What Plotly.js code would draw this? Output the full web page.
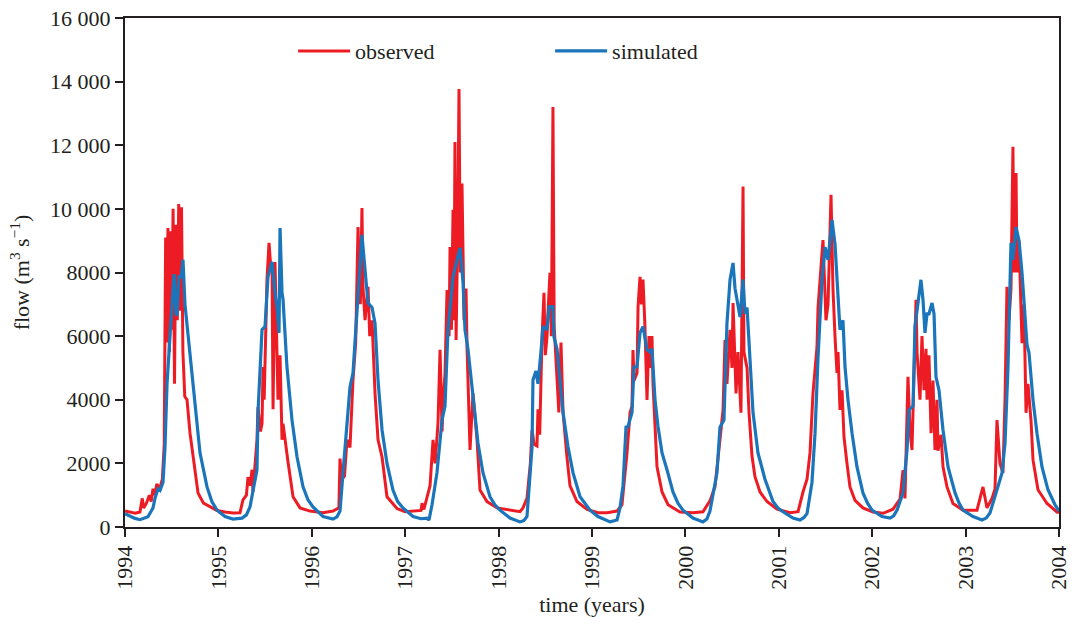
<!DOCTYPE html>
<html>
<head>
<meta charset="utf-8">
<script src="https://cdn.plot.ly/plotly-3.0.1.min.js"></script>
<style>
html,body{margin:0;padding:0;background:#fff;}
#chart{width:1074px;height:625px;}
</style>
</head>
<body>
<div id="chart"></div>
<script>
// Observed flow (m3/s) — time in decimal years
const obsT = [
1994.000,1994.050,1994.110,1994.160,1994.185,1994.200,1994.230,1994.260,1994.280,1994.300,1994.320,1994.340,1994.370,1994.400,1994.420,
1994.435,1994.445,1994.460,1994.475,1994.490,1994.500,1994.515,1994.530,1994.545,1994.560,1994.575,1994.590,1994.605,1994.620,1994.640,
1994.664,1994.696,1994.728,1994.760,1994.782,1994.840,1994.910,1994.985,
1995.071,1995.156,1995.231,1995.263,1995.300,1995.317,1995.340,1995.360,1995.370,1995.413,1995.424,1995.450,1995.467,1995.478,1995.490,
1995.520,1995.542,1995.560,1995.574,1995.585,1995.606,1995.620,1995.638,1995.660,1995.681,1995.692,1995.713,1995.745,1995.799,1995.874,1995.981,
1996.120,1996.227,1996.290,1996.302,1996.320,1996.350,1996.377,1996.409,1996.441,1996.470,1996.495,1996.520,1996.537,1996.548,1996.570,
1996.602,1996.620,1996.645,1996.677,1996.709,1996.752,1996.805,1996.912,1996.998,
1997.126,1997.170,1997.180,1997.200,1997.266,1997.298,1997.320,1997.351,1997.373,1997.395,1997.405,1997.426,1997.448,1997.470,1997.480,
1997.495,1997.512,1997.522,1997.533,1997.545,1997.565,1997.576,1997.590,1997.608,1997.630,1997.651,1997.662,1997.694,1997.726,1997.769,
1997.801,1997.876,1997.983,
1998.122,1998.229,1998.261,1998.304,1998.340,1998.358,1998.380,1998.411,1998.422,1998.440,1998.465,1998.486,1998.500,1998.518,1998.530,
1998.550,1998.565,1998.582,1998.595,1998.620,1998.645,1998.668,1998.690,1998.732,1998.764,1998.839,1998.947,
1999.064,1999.161,1999.268,1999.321,1999.375,1999.407,1999.428,1999.439,1999.450,1999.482,1999.493,1999.514,1999.530,1999.546,1999.567,
1999.589,1999.610,1999.630,1999.642,1999.653,1999.696,1999.750,1999.814,1999.942,
2000.081,2000.188,2000.263,2000.317,2000.370,2000.403,2000.424,2000.445,2000.478,2000.499,2000.510,2000.542,2000.563,2000.595,2000.617,
2000.627,2000.660,2000.681,2000.713,2000.745,2000.799,2000.874,2000.981,
2001.120,2001.206,2001.259,2001.302,2001.334,2001.366,2001.409,2001.420,2001.441,2001.473,2001.505,2001.527,2001.559,2001.580,2001.602,
2001.623,2001.634,2001.655,2001.677,2001.698,2001.730,2001.762,2001.816,2001.901,
2002.009,2002.116,2002.223,2002.298,2002.330,2002.351,2002.383,2002.405,2002.426,2002.437,2002.469,2002.480,2002.512,2002.533,2002.555,
2002.576,2002.587,2002.608,2002.630,2002.651,2002.672,2002.694,2002.704,2002.737,2002.758,2002.801,2002.865,2002.972,
2003.122,2003.186,2003.229,2003.283,2003.315,2003.336,2003.368,2003.400,2003.422,2003.443,2003.465,2003.486,2003.507,2003.518,2003.540,
2003.550,2003.572,2003.604,2003.625,2003.647,2003.668,2003.700,2003.722,2003.775,2003.872,2003.979,2004.000
];
const obsQ = [
500,470,430,470,900,600,750,1000,800,1200,1000,1350,1200,1500,2600,
9100,5800,9400,5500,9300,6200,10000,4500,9500,6500,10150,6800,10050,5500,4100,
4000,2950,2200,1500,1070,750,630,520,
470,440,450,850,1000,1570,1300,1800,1100,2740,3770,3000,3250,5030,4000,
7770,8930,8200,8300,3700,8330,6000,4000,5400,2740,3250,2700,2050,950,600,500,
450,500,600,2150,1500,1600,2740,2500,4620,5800,9430,7000,10030,7550,6500,
7550,6000,6500,4200,2740,2200,950,580,480,
500,520,750,550,1300,2740,2000,3250,5570,3000,4000,4800,7450,6000,8800,
6200,9970,6500,12100,5880,10000,13770,8000,10800,6500,7500,5660,2420,4200,2740,
1160,800,600,
530,480,600,900,2000,3050,2600,2550,3700,2900,5970,7360,5400,5970,6800,
7990,6000,13200,6300,5000,3600,5800,3600,2200,1300,800,550,
450,450,500,700,2330,3590,3800,5560,4600,4840,6920,7860,7000,7780,6300,
3990,6000,5000,6000,4500,1890,1100,700,470,
450,480,820,1270,2740,3680,5880,4500,6200,5000,7040,4200,5500,3590,10700,
5500,5000,3590,2230,1580,1100,800,560,
450,480,1100,1500,2330,4200,5660,6900,7770,9020,6500,7000,10440,7500,5970,
4840,5500,3680,4300,2830,2000,1260,840,600,
470,430,560,880,1790,900,4720,3000,2420,3500,7140,5500,4000,6000,4300,
5600,4000,5400,2950,4600,2420,4000,2400,2900,1890,1260,740,530,
530,1260,600,900,1200,3360,2000,1700,4000,7550,6500,7500,11950,8000,11130,
8000,9000,5780,7000,3590,4500,3360,2100,1170,740,470,450
];

// Simulated flow (m3/s)
const simT = [
1994.000,1994.054,1994.107,1994.161,1994.214,1994.246,1994.300,1994.321,1994.353,1994.375,1994.407,1994.428,1994.450,1994.482,1994.503,
1994.525,1994.546,1994.557,1994.578,1994.600,1994.621,1994.642,1994.675,1994.717,1994.760,1994.803,1994.878,1994.930,1994.985,
1995.071,1995.156,1995.253,1995.300,1995.338,1995.413,1995.424,1995.467,1995.499,1995.531,1995.574,1995.606,1995.627,1995.649,1995.660,1995.681,
1995.692,1995.734,1995.788,1995.842,1995.906,1995.960,
1996.013,1996.120,1996.227,1996.270,1996.302,1996.334,1996.409,1996.441,1996.484,1996.537,1996.570,1996.602,1996.645,1996.677,1996.709,1996.752,
1996.805,1996.869,1996.920,1996.976,
1997.084,1997.170,1997.233,1997.255,1997.287,1997.340,1997.394,1997.426,1997.458,1997.512,1997.555,1997.587,1997.619,1997.640,1997.672,1997.726,
1997.779,1997.833,1997.908,1997.960,
1998.015,1998.122,1998.190,1998.229,1998.270,1998.304,1998.358,1998.368,1998.400,1998.422,1998.465,1998.475,1998.518,1998.540,1998.582,1998.593,1998.625,
1998.657,1998.690,1998.743,1998.797,1998.872,1998.930,1998.979,
1999.064,1999.193,1999.268,1999.300,1999.332,1999.364,1999.385,1999.428,1999.450,1999.482,1999.514,1999.546,1999.589,1999.621,1999.642,
1999.675,1999.707,1999.750,1999.803,1999.867,1999.920,1999.974,
2000.081,2000.188,2000.230,2000.263,2000.338,2000.370,2000.413,2000.445,2000.478,2000.510,2000.531,2000.563,2000.585,2000.617,2000.638,2000.660,
2000.692,2000.724,2000.777,2000.852,2000.938,2000.990,
2001.045,2001.152,2001.227,2001.270,2001.302,2001.355,2001.388,2001.420,2001.463,2001.495,2001.527,2001.570,2001.602,2001.634,2001.655,2001.687,
2001.709,2001.741,2001.784,2001.837,2001.901,2001.950,2001.998,
2002.105,2002.191,2002.230,2002.266,2002.330,2002.373,2002.394,2002.437,2002.458,2002.490,2002.522,2002.544,2002.565,2002.587,2002.608,2002.640,
2002.662,2002.683,2002.715,2002.758,2002.812,2002.887,2002.930,2002.972,
2003.079,2003.176,2003.220,2003.261,2003.347,2003.390,2003.422,2003.454,2003.486,2003.507,2003.540,2003.572,2003.604,2003.625,2003.657,2003.679,
2003.722,2003.764,2003.818,2003.882,2003.957,2004.000
];
const simQ = [
420,330,270,230,300,320,600,900,1200,1150,1400,2500,4500,6200,7000,
7950,6700,6650,7900,7830,8400,7000,6000,4940,3460,2330,1260,800,530,
330,250,280,380,630,1800,3600,6200,6300,7860,8330,7360,6900,6100,9400,7360,
7150,5030,3360,2200,1260,850,
630,330,250,320,500,1700,4400,4840,6730,9180,8080,7040,6900,6400,4620,3050,
2000,1160,800,600,
330,260,280,220,700,1700,3360,3800,6200,7860,8400,8770,7700,6200,5600,4200,
2640,1700,950,700,
530,280,200,160,200,330,2520,4620,4900,4500,5880,6300,6200,6920,6920,5970,5600,
4620,3600,2520,1700,950,700,530,
330,160,220,600,1300,3140,3150,3600,5030,5030,6100,6300,5570,5500,5600,
3990,3150,2330,1800,1100,750,530,
280,160,250,500,1700,3140,3360,6400,7780,8300,7500,7040,6600,7780,6700,6900,
5330,3600,2330,1500,800,600,
480,280,220,300,420,1400,2950,5330,7780,8800,8400,9650,8880,7360,6200,6500,
5030,3990,2950,1890,1070,750,530,
330,280,350,530,1070,2420,3680,3800,6300,7140,7770,7140,6100,6700,6700,7040,
6700,4720,4300,3050,1890,1070,750,530,
330,220,280,440,1260,1700,2630,5030,8930,8400,9430,9000,7990,6960,5740,5470,
3990,2950,1890,1170,700,500
];

const yTickVals = [0,2000,4000,6000,8000,10000,12000,14000,16000];
const yTickText = ['0','2000','4000','6000','8000','10 000','12 000','14 000','16 000'];
const xTickVals = [1994,1995,1996,1997,1998,1999,2000,2001,2002,2003,2004];
const xTickText = ['1994','1995','1996','1997','1998','1999','2000','2001','2002','2003','2004'];

const fontFam = '"Liberation Serif", "DejaVu Serif", serif';

const traces = [
  {x: obsT, y: obsQ, type: 'scatter', mode: 'lines', name: 'observed',
   line: {color: '#ed1c24', width: 3}},
  {x: simT, y: simQ, type: 'scatter', mode: 'lines', name: 'simulated',
   line: {color: '#1b75bb', width: 3.2}}
];

const layout = {
  width: 1074, height: 625,
  margin: {l: 125, r: 15, t: 18, b: 98},
  paper_bgcolor: '#fff', plot_bgcolor: '#fff',
  font: {family: fontFam, size: 22, color: '#231f20'},
  showlegend: true,
  legend: {orientation: 'h', x: 0.18, y: 0.935, xanchor: 'left', yanchor: 'middle',
           font: {family: fontFam, size: 22, color: '#231f20'},
           bgcolor: 'rgba(0,0,0,0)', itemwidth: 52, entrywidth: 190, entrywidthmode: 'pixels'},
  xaxis: {range: [1994, 2004], tickvals: xTickVals, ticktext: xTickText, tickangle: -90,
          ticks: 'outside', ticklen: 8, tickwidth: 2, tickcolor: '#231f20',
          showline: true, linecolor: '#231f20', linewidth: 2, mirror: true,
          showgrid: false, zeroline: false,
          tickfont: {family: fontFam, size: 22, color: '#231f20'},
          title: {text: 'time (years)', font: {family: fontFam, size: 22, color: '#231f20'}, standoff: 8}},
  yaxis: {range: [0, 16000], tickvals: yTickVals, ticktext: yTickText,
          ticks: 'outside', ticklen: 8, tickwidth: 2, tickcolor: '#231f20',
          showline: true, linecolor: '#231f20', linewidth: 2, mirror: true,
          showgrid: false, zeroline: false,
          tickfont: {family: fontFam, size: 22, color: '#231f20'},
          title: {text: 'flow (m<sup>3</sup> s<sup>−1</sup>)', font: {family: fontFam, size: 22, color: '#231f20'}, standoff: 14}}
};

Plotly.newPlot('chart', traces, layout, {displayModeBar: false, responsive: false});
</script>
</body>
</html>
